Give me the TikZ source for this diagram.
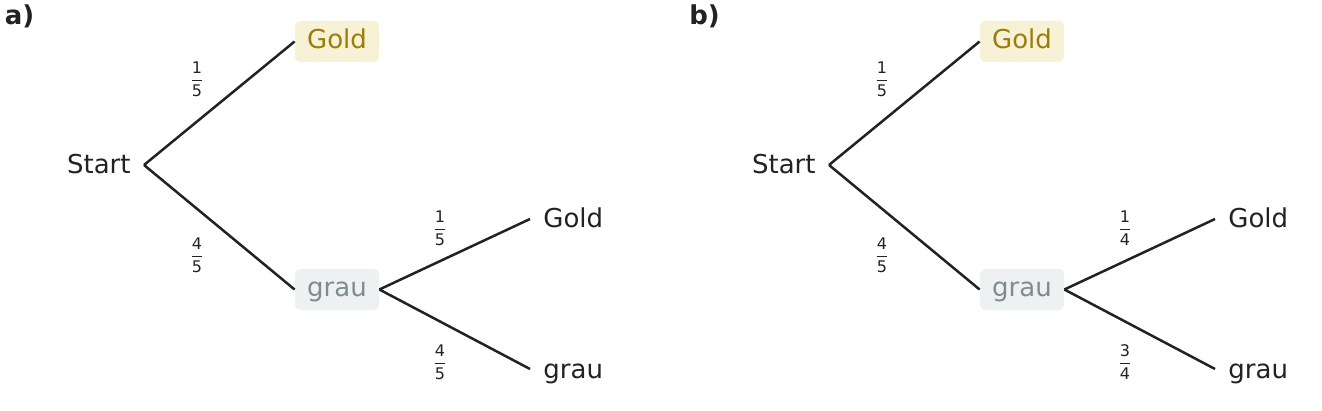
\documentclass[tikz,border=0pt]{standalone}
\usepackage{amsmath}
\usepackage{fontspec}
\setmainfont{DejaVu Sans}
\usepackage{tikz}

\definecolor{ink}{HTML}{222222}
\definecolor{goldfill}{HTML}{F7F1D5}
\definecolor{goldtext}{HTML}{9A7D0A}
\definecolor{graufill}{HTML}{EEF1F2}
\definecolor{grautext}{HTML}{7F8C8D}
\newcommand{\bruch}[2]{$\dfrac{\text{#1}}{\text{#2}}$}

\begin{document}
\begin{tikzpicture}[x=0.5pt, y=-0.5pt, inner sep=0pt,
  txt/.style={inner xsep=6.5pt, text=ink, text height=12pt, text depth=3pt, font=\fontsize{13}{15}\selectfont},
  kasten/.style={rectangle, rounded corners=2.5pt, minimum width=42pt, minimum height=20.5pt, text height=9.5pt, text depth=2.5pt, font=\fontsize{13}{15}\selectfont},
  goldbox/.style={kasten, fill=goldfill, text=goldtext},
  graubox/.style={kasten, fill=graufill, text=grautext},
  bruchlabel/.style={text=ink, font=\fontsize{8}{9}\selectfont},
  ast/.style={draw=ink, line width=1.25pt}]
\useasboundingbox (0,0) rectangle (1322,411);
\foreach \p/\dx/\m/\d in {a/0/4/5, b/685/3/4} {
\begin{scope}[shift={(\dx,0)}]
% first stage
\node (\p-tag) at (19.5,16) [text=ink, font=\fontsize{13}{15}\selectfont\bfseries] {\p)};
\node (\p-start) at (144,165) [txt, anchor=east] {Start};
\node (\p-gold) at (337,41.5) [goldbox] {Gold};
\node (\p-grau) at (337,289.5) [graubox] {grau};
% second stage
\node (\p-gg) at (530,219) [txt, anchor=west] {Gold};
\node (\p-gr) at (530,369) [txt, anchor=west] {grau};
\draw[ast] (\p-start.east) -- (\p-gold.west);
\draw[ast] (\p-start.east) -- (\p-grau.west);
\draw[ast] (\p-grau.east) -- (\p-gg.west);
\draw[ast] (\p-grau.east) -- (\p-gr.west);
% probabilities
\node (\p-w1) at (197,79) [bruchlabel] {\bruch{1}{5}};
\node (\p-w2) at (197,255) [bruchlabel] {\bruch{4}{5}};
\node (\p-w3) at (440,228) [bruchlabel] {\bruch{1}{\d}};
\node (\p-w4) at (440,362) [bruchlabel] {\bruch{\m}{\d}};
\end{scope}
}
\end{tikzpicture}
\end{document}
